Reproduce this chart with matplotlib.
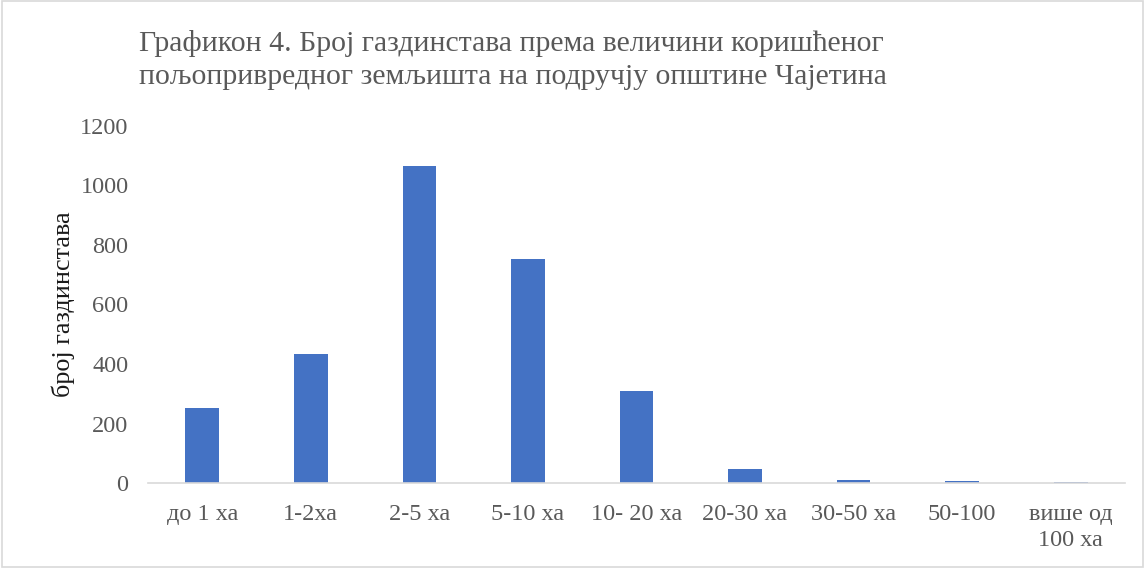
import matplotlib.pyplot as plt
from matplotlib.patches import Rectangle

categories = ['до 1 ха', '1-2ха', '2-5 ха', '5-10 ха', '10- 20 ха',
              '20-30 ха', '30-50 ха', '50-100', 'више од\n100 ха']
households = [253, 435, 1065, 753, 309, 47, 11, 8, 2]
y_ticks = [0, 200, 400, 600, 800, 1000, 1200]

TITLE = ('Графикон 4. Број газдинстава према величини коришћеног\n'
         'пољопривредног земљишта на подручју општине Чајетина')

plt.rcParams['font.family'] = ['Liberation Serif', 'DejaVu Serif']
text_color = '#595959'

fig = plt.figure(figsize=(11.45, 5.68), dpi=100)
ax = fig.add_axes([148 / 1145, 1 - 483 / 568, (1125 - 148) / 1145, (483 - 126) / 568])

x = range(len(categories))
ax.bar(x, households, width=0.31, color='#4472c4')

ax.set_xlim(-0.5, len(categories) - 0.5)
ax.set_ylim(0, 1200)
ax.set_yticks(y_ticks)
ax.set_xticks(list(x))
ax.set_xticklabels(categories, linespacing=1.3)
ax.tick_params(axis='both', length=0, labelsize=17.5, colors=text_color)
ax.tick_params(axis='x', pad=15)
ax.tick_params(axis='y', pad=14)

for side in ['top', 'right', 'left']:
    ax.spines[side].set_visible(False)
ax.spines['bottom'].set_color('#d9d9d9')
ax.spines['bottom'].set_linewidth(1.2)

ax.set_ylabel('број газдинстава', fontsize=18.8, color='#1a1a1a', labelpad=4)

fig.text(139 / 1145, 1 - 30 / 568, TITLE, fontsize=21.4, color=text_color,
         ha='left', va='top', linespacing=1.35)

fig.patches.append(Rectangle((0.002, 0.002), 0.996, 0.996, transform=fig.transFigure,
                             fill=False, edgecolor='#d9d9d9', linewidth=1.2))

fig.savefig('out.png', dpi=100)
